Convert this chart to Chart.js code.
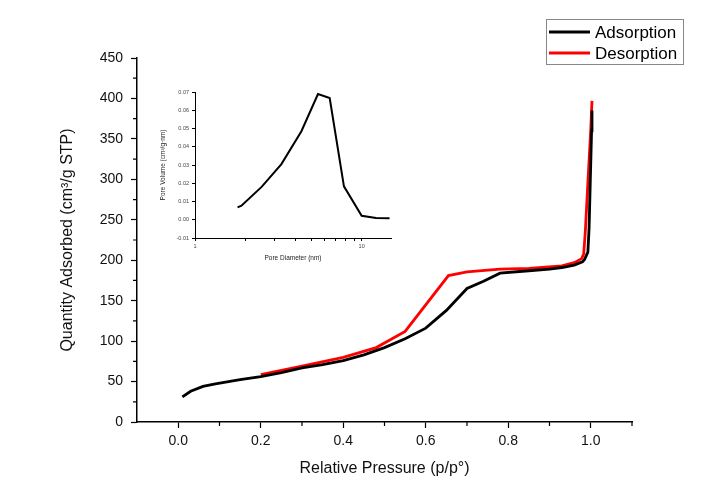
<!DOCTYPE html>
<html>
<head>
<meta charset="utf-8">
<script src="https://cdn.jsdelivr.net/npm/chart.js@4.4.0/dist/chart.umd.min.js"></script>
<style>
html, body { margin: 0; padding: 0; background: #fff; }
#wrap { position: relative; width: 716px; height: 495px; }
#mainChart { position: absolute; left: 0; top: 0; }
#insetChart { position: absolute; left: 140px; top: 75px; }
</style>
</head>
<body>
<div id="wrap">
    <canvas id="mainChart" width="716" height="495"></canvas>
    <canvas id="insetChart" width="260" height="195"></canvas>
</div>
<script>
// isotherm
const adsPressure = [0.01, 0.03, 0.06, 0.09, 0.15, 0.20, 0.25, 0.30, 0.35, 0.40, 0.45, 0.50, 0.55, 0.60, 0.65, 0.70, 0.74, 0.78, 0.85, 0.90, 0.93, 0.96, 0.98, 0.985, 0.993, 0.996, 0.999, 1.002, 1.003];
const adsQuantity = [31, 38, 44, 47, 52.5, 56, 61, 67, 71, 76, 83, 92, 103, 116, 138, 165, 174, 184, 187, 189, 191, 194, 198, 201, 210, 240, 300, 360, 385];
const desPressure = [0.20, 0.30, 0.40, 0.48, 0.55, 0.655, 0.70, 0.78, 0.85, 0.93, 0.96, 0.978, 0.983, 0.987, 0.9935, 1.0, 1.003];
const desQuantity = [58.5, 69, 80, 92, 112, 181, 185.5, 189, 190, 193, 197, 202, 208, 237, 300, 361, 397];

// pore size distribution (inset)
const poreDiameter = [1.80, 1.90, 2.51, 3.30, 4.35, 5.47, 6.43, 7.83, 10.0, 12.2, 14.7];
const poreVolume = [0.0068, 0.0077, 0.018, 0.0305, 0.0485, 0.0689, 0.0667, 0.0183, 0.0022, 0.0010, 0.0008];

const legendLabels = ['Adsorption', 'Desorption'];
const seriesColors = ['#000000', '#ff0000'];

function toPoints(xs, ys) {
    return xs.map((x, i) => ({ x: x, y: ys[i] }));
}

function isMajorX(v) {
    const n = Math.round(v * 10);
    return n % 2 === 0 && n >= 0 && n <= 10;
}

function isMajorY(v) {
    return Math.round(v) % 50 === 0;
}

// short minor ticks, the library draws the long ones
const minorTicks = {
    id: 'minorTicks',
    afterDraw(chart) {
        const { ctx, scales: { x, y } } = chart;
        ctx.save();
        ctx.strokeStyle = '#000';
        ctx.lineWidth = 1.2;
        ctx.beginPath();
        x.ticks.forEach(t => {
            if (!isMajorX(t.value) && t.value > x.min + 0.01) {
                const px = x.getPixelForValue(t.value);
                ctx.moveTo(px, y.bottom);
                ctx.lineTo(px, y.bottom + 4);
            }
        });
        y.ticks.forEach(t => {
            if (!isMajorY(t.value)) {
                const py = y.getPixelForValue(t.value);
                ctx.moveTo(x.left, py);
                ctx.lineTo(x.left - 4, py);
            }
        });
        ctx.stroke();
        ctx.restore();
    }
};

const boxLegend = {
    id: 'boxLegend',
    afterDraw(chart) {
        const ctx = chart.ctx;
        ctx.save();
        ctx.strokeStyle = '#888';
        ctx.lineWidth = 1;
        ctx.strokeRect(546.5, 19.5, 137, 45);
        ctx.font = '17px "Liberation Sans", Arial, sans-serif';
        ctx.textBaseline = 'middle';
        chart.data.datasets.forEach((ds, i) => {
            const cy = 32 + i * 21;
            ctx.strokeStyle = ds.borderColor;
            ctx.lineWidth = 3;
            ctx.beginPath();
            ctx.moveTo(549, cy);
            ctx.lineTo(590, cy);
            ctx.stroke();
            ctx.fillStyle = '#000';
            ctx.fillText(ds.label, 595, cy + 1);
        });
        ctx.restore();
    }
};

const tickFont = { family: '"Liberation Sans", Arial, sans-serif', size: 14 };
const titleFont = { family: '"Liberation Sans", Arial, sans-serif', size: 16 };

new Chart(document.getElementById('mainChart').getContext('2d'), {
    type: 'scatter',
    plugins: [minorTicks, boxLegend],
    data: {
        datasets: [
            {
                label: legendLabels[0],
                data: toPoints(adsPressure, adsQuantity),
                borderColor: seriesColors[0],
                backgroundColor: seriesColors[0],
                borderWidth: 2.8,
                showLine: true,
                pointRadius: 0,
                tension: 0
            },
            {
                label: legendLabels[1],
                data: toPoints(desPressure, desQuantity),
                borderColor: seriesColors[1],
                backgroundColor: seriesColors[1],
                borderWidth: 2.8,
                showLine: true,
                pointRadius: 0,
                tension: 0
            }
        ]
    },
    options: {
        responsive: false,
        animation: false,
        layout: { padding: { left: 58, top: 58, right: 84, bottom: 17 } },
        plugins: { legend: { display: false }, tooltip: { enabled: false } },
        scales: {
            x: {
                type: 'linear',
                min: -0.1,
                max: 1.1,
                afterFit(scale) { scale.height = 56; },
                border: { display: true, color: '#000', width: 1.5 },
                grid: {
                    drawOnChartArea: false,
                    drawTicks: true,
                    tickLength: 6,
                    tickWidth: 1.2,
                    tickColor(c) { return c.tick && isMajorX(c.tick.value) ? '#000' : 'rgba(0,0,0,0)'; }
                },
                ticks: {
                    stepSize: 0.1,
                    autoSkip: false,
                    maxRotation: 0,
                    padding: 5,
                    color: '#111',
                    font: tickFont,
                    callback(v) { return isMajorX(v) ? v.toFixed(1) : ''; }
                },
                title: {
                    display: true,
                    text: 'Relative Pressure (p/p°)',
                    color: '#111',
                    font: titleFont,
                    padding: 0
                }
            },
            y: {
                type: 'linear',
                min: 0,
                max: 450,
                afterFit(scale) { scale.width = 79; },
                border: { display: true, color: '#000', width: 1.5 },
                grid: {
                    drawOnChartArea: false,
                    drawTicks: true,
                    tickLength: 6,
                    tickWidth: 1.2,
                    tickColor(c) { return c.tick && isMajorY(c.tick.value) ? '#000' : 'rgba(0,0,0,0)'; }
                },
                ticks: {
                    stepSize: 25,
                    autoSkip: false,
                    padding: 8,
                    color: '#111',
                    font: tickFont,
                    callback(v) { return isMajorY(v) ? String(v) : ''; }
                },
                title: {
                    display: true,
                    text: 'Quantity Adsorbed (cm³/g STP)',
                    color: '#111',
                    font: titleFont,
                    padding: 0
                }
            }
        }
    }
});

const insetTickFont = { family: '"Liberation Sans", Arial, sans-serif', size: 5.5 };
const insetTitleFont = { family: '"Liberation Sans", Arial, sans-serif', size: 6.5 };

new Chart(document.getElementById('insetChart').getContext('2d'), {
    type: 'scatter',
    data: {
        datasets: [{
            label: 'Pore Volume',
            data: toPoints(poreDiameter, poreVolume),
            borderColor: '#000',
            borderWidth: 2,
            showLine: true,
            pointRadius: 0,
            tension: 0
        }]
    },
    options: {
        responsive: false,
        animation: false,
        layout: { padding: { left: 19, top: 17, right: 9, bottom: 8 } },
        plugins: { legend: { display: false }, tooltip: { enabled: false } },
        scales: {
            x: {
                type: 'logarithmic',
                min: 1,
                max: 15,
                afterFit(scale) { scale.height = 24; },
                border: { display: true, color: '#000', width: 1 },
                grid: {
                    drawOnChartArea: false,
                    drawTicks: true,
                    tickLength: 3,
                    tickWidth: 1,
                    tickColor(c) { return c.tick && c.tick.value <= 10 ? '#000' : 'rgba(0,0,0,0)'; }
                },
                ticks: {
                    autoSkip: false,
                    maxRotation: 0,
                    padding: 2,
                    color: '#444',
                    font: insetTickFont,
                    callback(v) { return (v === 1 || v === 10) ? String(v) : ''; }
                },
                title: {
                    display: true,
                    text: 'Pore Diameter (nm)',
                    color: '#222',
                    font: insetTitleFont,
                    padding: 0
                }
            },
            y: {
                type: 'linear',
                min: -0.01,
                max: 0.07,
                afterFit(scale) { scale.width = 36; },
                border: { display: true, color: '#000', width: 1 },
                grid: {
                    drawOnChartArea: false,
                    drawTicks: true,
                    tickLength: 3,
                    tickWidth: 1,
                    tickColor: '#000'
                },
                ticks: {
                    stepSize: 0.01,
                    autoSkip: false,
                    padding: 3,
                    color: '#444',
                    font: insetTickFont,
                    callback(v) { return v.toFixed(2); }
                },
                title: {
                    display: true,
                    text: 'Pore Volume (cm³/g·nm)',
                    color: '#222',
                    font: insetTitleFont,
                    padding: 0
                }
            }
        }
    }
});
</script>
</body>
</html>
